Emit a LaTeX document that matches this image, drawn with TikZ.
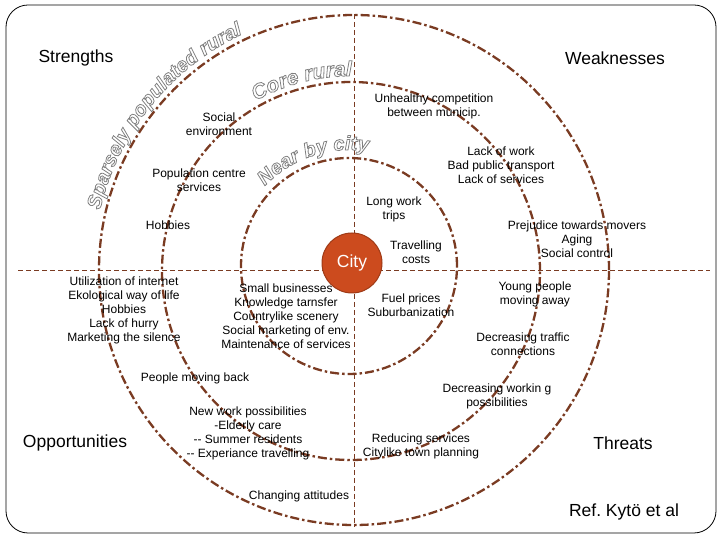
\documentclass[tikz,border=0pt]{standalone}
\usepackage{fontspec}
\setmainfont{Liberation Sans}
\usetikzlibrary{decorations.text}
\frenchspacing
\definecolor{ringc}{HTML}{7A3B22}
\definecolor{cityc}{HTML}{CC4B1E}
\definecolor{cityb}{HTML}{9E3A16}
\definecolor{outl}{HTML}{808080}
\newcommand\arcfnt{\bfseries\itshape\color{outl}\special{pdf:code 1 Tr 0.8 w}}
\begin{document}
\begin{tikzpicture}[x=1pt,y=1pt,
  ring/.style={circle, draw=ringc, line width=2.3pt, dash pattern=on 9pt off 3pt on 2.5pt off 3pt, inner sep=0pt},
  axisline/.style={draw=ringc, line width=0.9pt, dash pattern=on 5pt off 3pt},
  lbl/.style={align=center, font=\fontsize{12}{14}\selectfont, inner sep=0pt},
  big/.style={font=\fontsize{17.5}{20}\selectfont, inner sep=0pt},
  arctext/.style 2 args={decorate, decoration={text along path, text align=center, text={|\fontsize{#2}{#2}\selectfont\arcfnt|#1}}}
]
\useasboundingbox (0,0) rectangle (720,540);
\draw[rounded corners=22pt, line width=0.8pt] (6,7) rectangle (716,535);

% rings
\node[ring, minimum size=510pt] (outer) at (354,270) {};
\node[ring, minimum size=378pt] (middle) at (351,269) {};
\node[ring, minimum size=216pt] (inner) at (349,274) {};

% axes
\coordinate (axL) at (18,270);
\coordinate (axR) at (710,270);
\draw[axisline] (axL) -- (axR);
\draw[axisline] (outer.north) -- (outer.south);

% city
\node[circle, fill=cityc, draw=cityb, line width=1pt, minimum size=60pt, inner sep=0pt,
      text=white, font=\fontsize{17.5}{20}\selectfont] (city) at (352,277) {City};

% curved texts
\path[arctext={Sparsely populated rural}{20}] (354,270) ++(180:261) arc[start angle=180, end angle=102, radius=261];
\path[arctext={Core rural}{21}] (351,269) ++(135:195) arc[start angle=135, end angle=74, radius=195];
\path[arctext={Near by city}{20}] (349,274) ++(150:116) arc[start angle=150, end angle=67, radius=116];

% quadrant titles
\node[big] (str) at (76,482) {Strengths};
\node[big] (wea) at (615,482) {Weaknesses};
\node[big] (opp) at (75,97) {Opportunities};
\node[big] (thr) at (623,97) {Threats};
\node[big] (ref) at (624,28) {Ref. Kytö et al};

% labels
\node[lbl] (l1) at (219,416) {Social\\environment};
\node[lbl] (l2) at (199,360) {Population centre\\services};
\node[lbl] (l3) at (168,315) {Hobbies};
\node[lbl] (l4) at (434,434) {Unhealthy competition\\between municip.};
\node[lbl] (l5) at (501,375) {Lack of work\\Bad public transport\\Lack of services};
\node[lbl] (l6) at (394,331) {Long work\\trips};
\node[lbl] (l7) at (577,301) {Prejudice towards movers\\Aging\\Social control};
\node[lbl] (l8) at (416,288) {Travelling\\costs};
\node[lbl] (l9) at (124,230) {Utilization of internet\\Ekological way of life\\Hobbies\\Lack of hurry\\Marketing the silence};
\node[lbl] (l10) at (286,224) {Small businesses\\Knowledge tarnsfer\\Countrylike scenery\\Social marketing of env.\\Maintenance of services};
\node[lbl] (l11) at (411,235) {Fuel prices\\Suburbanization};
\node[lbl] (l12) at (535,246) {Young people\\moving away};
\node[lbl] (l13) at (523,196) {Decreasing traffic\\connections};
\node[lbl] (l14) at (195,162) {People moving back};
\node[lbl] (l15) at (497,144) {Decreasing workin g\\possibilities};
\node[lbl] (l16) at (248,107) {New work possibilities\\-Elderly care\\{-}{-} Summer residents\\{-}{-} Experiance travelling};
\node[lbl] (l17) at (421,94) {Reducing services\\Citylike town planning};
\node[lbl] (l18) at (299,44) {Changing attitudes};
\end{tikzpicture}
\end{document}
